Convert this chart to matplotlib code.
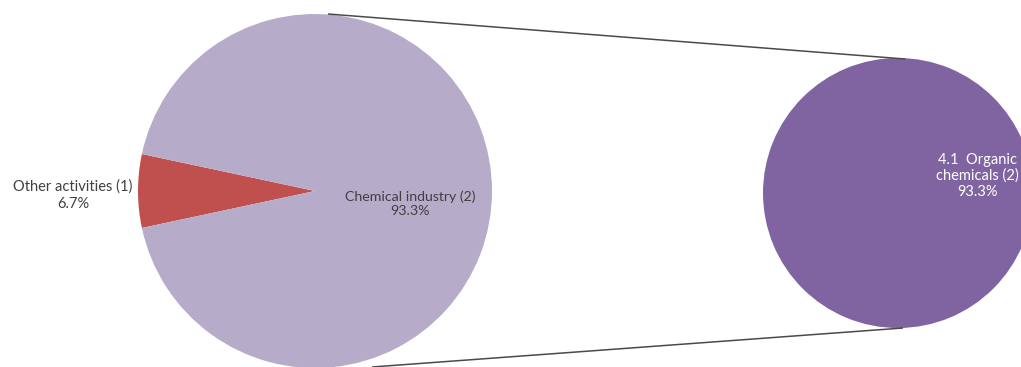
import matplotlib.pyplot as plt

# Pie-of-pie: activity split, with the chemical industry broken out
main_labels = ["Other activities (1)", "Chemical industry (2)"]
main_shares = [6.7, 93.3]
sub_labels = ["4.1  Organic\nchemicals (2)"]
sub_shares = [93.3]

main_colors = ["#C0504D", "#B6ACCA"]
sub_colors = ["#8064A2"]

W, H = 1021, 367
fig = plt.figure(figsize=(W / 100, H / 100), dpi=100)
ax = fig.add_axes([0, 0, 1, 1])

font = ["Lato", "DejaVu Sans"]

# main pie, small slice centred on the left
main_center, main_r = (315, 176), 177
start = 180 - main_shares[0] * 3.6 / 2
ax.pie(main_shares, colors=main_colors, startangle=start, counterclock=True,
       center=main_center, radius=main_r, frame=True,
       wedgeprops=dict(linewidth=0))

# breakout pie
sub_center, sub_r = (898, 174), 135
ax.pie([100], colors=sub_colors, center=sub_center, radius=sub_r, frame=True,
       wedgeprops=dict(linewidth=0))
ax.set_xlim(0, W)
ax.set_ylim(0, H)
ax.set_aspect("equal")
ax.axis("off")

# connector lines between the two pies
ax.plot([328, 905], [353, 308], color="#4A4A4A", lw=1.1, solid_capstyle="butt")
ax.plot([372, 903], [0, 39], color="#4A4A4A", lw=1.1, solid_capstyle="butt")

# labels
ax.text(73, 172, f"{main_labels[0]}\n{main_shares[0]}%", ha="center", va="center",
        fontsize=10.5, color="#404040", family=font, linespacing=1.25)
ax.text(410, 163, f"{main_labels[1]}\n{main_shares[1]}%", ha="center", va="center",
        fontsize=10.2, color="#404040", family=font, linespacing=1.2)
ax.text(977, 191, f"{sub_labels[0]}\n{sub_shares[0]}%", ha="center", va="center",
        fontsize=10.5, color="white", family=font, linespacing=1.15)

fig.savefig("out.png", dpi=100)
